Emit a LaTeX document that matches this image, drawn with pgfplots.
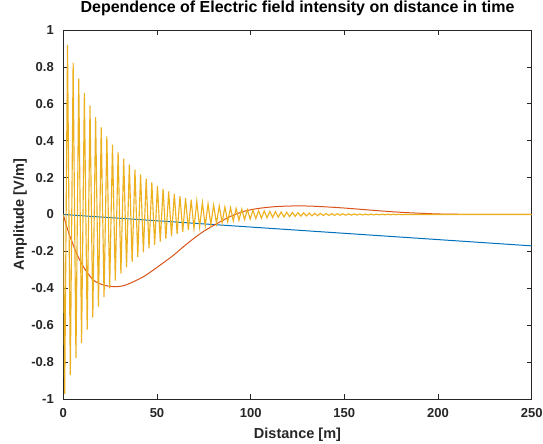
\documentclass[border=0pt]{standalone}
\usepackage{fontspec}
\setmainfont{Liberation Sans}
\usepackage{pgfplots}
\pgfplotsset{compat=1.18}
\definecolor{mblue}{RGB}{0,114,189}
\definecolor{morange}{RGB}{217,83,25}
\definecolor{myellow}{RGB}{237,177,32}
\definecolor{maxis}{RGB}{38,38,38}

\begin{document}
\begin{tikzpicture}
\begin{axis}[
  name=ax,
  scale only axis,
  width=468.4bp,height=369bp,
  xmin=0,xmax=250,ymin=-1,ymax=1,
  xtick={0,50,...,250},
  ytick={-1,-0.8,...,1},
  /pgf/number format/assume math mode=true,
  /pgf/number format/fixed,
  tick align=inside,
  major tick length=5bp,
  axis line style={maxis,line width=0.6pt},
  tick style={maxis,line width=0.6pt},
  tick label style={font=\bfseries\fontsize{13bp}{15bp}\selectfont,text=maxis},
  xticklabel style={yshift=-6bp},
  yticklabel style={xshift=-6bp},
  label style={font=\bfseries\fontsize{14.5bp}{16bp}\selectfont,text=maxis},
  xlabel={Distance [m]},
  ylabel={Amplitude [V/m]},
  xlabel style={at={(axis description cs:0.5,-0.106)},anchor=base},
  ylabel style={at={(axis description cs:-0.0924,0.5)},anchor=center},
  title={Dependence of Electric field intensity on distance in time},
  title style={font=\bfseries\fontsize{16bp}{18bp}\selectfont,
    at={(axis description cs:0.5,1)},anchor=base,yshift=12bp},
]
% linear term
\addplot[color=mblue,line width=1pt] coordinates {(0,0) (250,-0.17)};
% slow component
\addplot[color=morange,line width=1pt,smooth,tension=0.5] coordinates {
  (0,0) (1.5,-0.055) (3.6,-0.12) (7.1,-0.21) (10.7,-0.283) (16,-0.355)
  (21.4,-0.382) (26.8,-0.391) (32.1,-0.386) (37.5,-0.364) (42.8,-0.337)
  (48.2,-0.30) (53.5,-0.261) (58.9,-0.22) (64.2,-0.174) (69.6,-0.13)
  (75.1,-0.09) (82.2,-0.048) (89.3,-0.01) (96.4,0.017) (103.5,0.032)
  (112.4,0.042) (121.3,0.046) (130.2,0.046) (139.1,0.042) (150,0.035)
  (160,0.027) (170,0.019) (180,0.012) (190,0.007) (200,0.003) (215,0.001)
  (250,0)
};
% damped oscillation (peaks and troughs)
\addplot[color=myellow,line width=1.15pt] coordinates {
  (0,0)
  (0.75,-0.9726) (2.25,0.9200) (3.75,-0.8704) (5.25,0.8233) (6.75,-0.7788)
  (8.25,0.7367) (9.75,-0.6969) (11.25,0.6592) (12.75,-0.6236) (14.25,0.5899)
  (15.75,-0.5580) (17.25,0.5279) (18.75,-0.4994) (20.25,0.4724) (21.75,-0.4469)
  (23.25,0.4227) (24.75,-0.3999) (26.25,0.3783) (27.75,-0.3578) (29.25,0.3385)
  (30.75,-0.3202) (32.25,0.3029) (33.75,-0.2865) (35.25,0.2711) (36.75,-0.2564)
  (38.25,0.2426) (39.75,-0.2295) (41.25,0.2171) (42.75,-0.2053) (44.25,0.1942)
  (45.75,-0.1837) (47.25,0.1738) (48.75,-0.1644) (50.25,0.1555) (51.75,-0.1471)
  (53.25,0.1392) (54.75,-0.1316) (56.25,0.1245) (57.75,-0.1178) (59.25,0.1114)
  (60.75,-0.1054) (62.25,0.0997) (63.75,-0.0943) (65.25,0.0892) (66.75,-0.0844)
  (68.25,0.0798) (69.75,-0.0755) (71.25,0.0714) (72.75,-0.0676) (74.25,0.0639)
  (75.75,-0.0605) (77.25,0.0572) (78.75,-0.0541) (80.25,0.0512) (81.75,-0.0484)
  (83.25,0.0458) (84.75,-0.0433) (86.25,0.0410) (87.75,-0.0388) (89.25,0.0367)
  (90.75,-0.0347) (92.25,0.0328) (93.75,-0.0310) (95.25,0.0294) (96.75,-0.0278)
  (98.25,0.0263) (99.75,-0.0249) (101.25,0.0235) (102.75,-0.0222) (104.25,0.0210)
  (105.75,-0.0199) (107.25,0.0188) (108.75,-0.0178) (110.25,0.0168) (111.75,-0.0159)
  (113.25,0.0151) (114.75,-0.0142) (116.25,0.0135) (117.75,-0.0128) (119.25,0.0121)
  (120.75,-0.0114) (122.25,0.0108) (123.75,-0.0102) (125.25,0.0097) (126.75,-0.0091)
  (128.25,0.0087) (129.75,-0.0082) (131.25,0.0078) (132.75,-0.0073) (134.25,0.0069)
  (135.75,-0.0066) (137.25,0.0062) (138.75,-0.0059) (140.25,0.0055) (141.75,-0.0052)
  (143.25,0.0050) (144.75,-0.0047) (146.25,0.0044) (147.75,-0.0042) (149.25,0.0040)
  (150.75,-0.0038) (152.25,0.0036) (153.75,-0.0034) (155.25,0.0032) (156.75,-0.0030)
  (158.25,0.0028) (159.75,-0.0027) (161.25,0.0025) (162.75,-0.0024) (164.25,0.0023)
  (165.75,-0.0022) (167.25,0.0020) (168.75,-0.0019) (170.25,0.0018) (171.75,-0.0017)
  (173.25,0.0016) (174.75,-0.0015) (176.25,0.0015) (177.75,-0.0014) (179.25,0.0013)
  (180.75,-0.0012) (182.25,0) (250,0)
};
\end{axis}
\pgfresetboundingbox
\path ([shift={(-63.3bp,-45bp)}]ax.south west) rectangle ([shift={(11.3bp,30bp)}]ax.north east);
\end{tikzpicture}
\end{document}
